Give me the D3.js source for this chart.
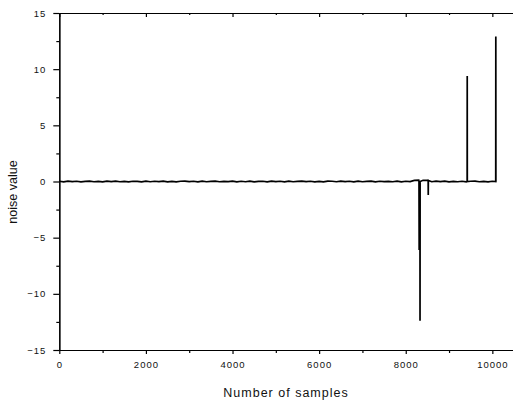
<!DOCTYPE html>
<html>
<head>
<meta charset="utf-8">
<script src="https://cdn.jsdelivr.net/npm/d3@7"></script>
<style>
  body { margin: 0; background: #fff; }
  svg { display: block; }
  text { font-family: "Liberation Sans", Arial, sans-serif; fill: #111; }
</style>
</head>
<body>
<div id="chart"></div>
<script>
// Background noise, one reading every 100 samples (0 .. 10100)
const noiseStep = 100;
const noiseValues = [
   0.02, -0.03,  0.03, -0.01,  0.02, -0.04,  0.01,  0.03, -0.02,  0.01,
  -0.03,  0.03, -0.01,  0.04, -0.02,  0.01, -0.03,  0.02,  0.01, -0.04,
   0.03, -0.02,  0.02, -0.01,  0.03, -0.03,  0.01, -0.04,  0.02,  0.03,
  -0.01,  0.02, -0.03,  0.04, -0.02,  0.01,  0.03, -0.02,  0.01, -0.01,
   0.04, -0.03,  0.02, -0.02,  0.03, -0.04,  0.01,  0.02, -0.03,  0.03,
  -0.01,  0.02, -0.03,  0.03, -0.02,  0.01,  0.04, -0.01,  0.02, -0.03,
   0.01, -0.04,  0.03,  0.02, -0.02,  0.03, -0.01,  0.02, -0.03,  0.04,
  -0.02,  0.01,  0.03, -0.03,  0.02, -0.01,  0.01, -0.02,  0.03, -0.03,
   0.02, -0.01,  0.10,  0.12,  0.11,  0.10, -0.02,  0.03, -0.01,  0.04,
  -0.03,  0.01, -0.02,  0.02, -0.03,  0.02,  0.03, -0.02,  0.01, -0.03,
   0.02, -0.01
];

// Outliers (sample index, value)
const spikeSamples = [8306, 8310, 8312, 8328, 8330, 8332, 8518, 8520, 8522, 9418, 9420, 9422, 10078, 10080, 10082];
const spikeValues  = [0.00, -6.1, 0.00, 0.00, -12.4, 0.00, 0.10, -1.2, 0.10, 0.00, 9.4, 0.00, 0.00, 12.9, 0.00];

// Axis ticks
const xMajorTicks = [0, 2000, 4000, 6000, 8000, 10000];
const xMinorTicks = [1000, 3000, 5000, 7000, 9000];
const yMajorTicks = [15, 10, 5, 0, -5, -10, -15];
const yMinorTicks = [12.5, 7.5, 2.5, -2.5, -7.5, -12.5];

const width = 513, height = 400;
const margin = { top: 13, right: -1, bottom: 50, left: 59.3 };

const svg = d3.select('#chart')
    .append('svg')
    .attr('width', width)
    .attr('height', height);

const x = d3.scaleLinear()
    .domain([0, 10500])
    .range([margin.left, width - margin.right]);

const y = d3.scaleLinear()
    .domain([-15, 15])
    .range([height - margin.bottom, margin.top]);

// merge noise and spikes into one series, ordered by sample index
const series = noiseValues.map((v, i) => ({ s: i * noiseStep, v: v }))
    .concat(spikeSamples.map((s, i) => ({ s: s, v: spikeValues[i] })))
    .sort((a, b) => a.s - b.s);

const line = d3.line()
    .x(d => x(d.s))
    .y(d => y(d.v));

svg.append('path')
    .datum(series)
    .attr('fill', 'none')
    .attr('stroke', '#000')
    .attr('stroke-width', 1.7)
    .attr('stroke-linejoin', 'miter')
    .attr('d', line);

const yTop = y(15), yBot = y(-15);

function drawAxis(axis, transform) {
    const g = svg.append('g')
        .attr('transform', transform)
        .call(axis);
    g.select('.domain').attr('stroke', '#000').attr('stroke-width', 1.2);
    g.selectAll('.tick line').attr('stroke', '#000').attr('stroke-width', 1.2);
    return g;
}

function styleLabels(g) {
    g.selectAll('text')
        .attr('font-size', '9.5px')
        .style('letter-spacing', '1px')
        .style('font-family', '"Liberation Sans", Arial, sans-serif');
}

// bottom axis
const bottom = drawAxis(d3.axisBottom(x).tickValues(xMajorTicks).tickSize(4).tickPadding(7)
    .tickFormat(d3.format('d')).tickSizeOuter(0), `translate(0,${yBot})`);
styleLabels(bottom);
drawAxis(d3.axisBottom(x).tickValues(xMinorTicks).tickSize(3).tickFormat('').tickSizeOuter(0),
    `translate(0,${yBot})`);

// top axis (ticks pointing inward)
drawAxis(d3.axisBottom(x).tickValues(xMajorTicks).tickSize(4).tickFormat('').tickSizeOuter(0),
    `translate(0,${yTop})`);
drawAxis(d3.axisBottom(x).tickValues(xMinorTicks).tickSize(2).tickFormat('').tickSizeOuter(0),
    `translate(0,${yTop})`);

// left axis
const left = drawAxis(d3.axisLeft(y).tickValues(yMajorTicks).tickSize(6).tickPadding(7)
    .tickFormat(d3.format('d')).tickSizeOuter(0), `translate(${x.range()[0]},0)`);
styleLabels(left);
drawAxis(d3.axisLeft(y).tickValues(yMinorTicks).tickSize(3).tickFormat('').tickSizeOuter(0),
    `translate(${x.range()[0]},0)`);

// Axis titles
svg.append('text')
    .attr('x', 286)
    .attr('y', 397)
    .attr('text-anchor', 'middle')
    .attr('font-size', '12.5px')
    .style('letter-spacing', '1px')
    .text('Number of samples');

svg.append('text')
    .attr('transform', 'translate(17,192) rotate(-90)')
    .attr('text-anchor', 'middle')
    .attr('font-size', '12.5px')
    .text('noise value');
</script>
</body>
</html>
